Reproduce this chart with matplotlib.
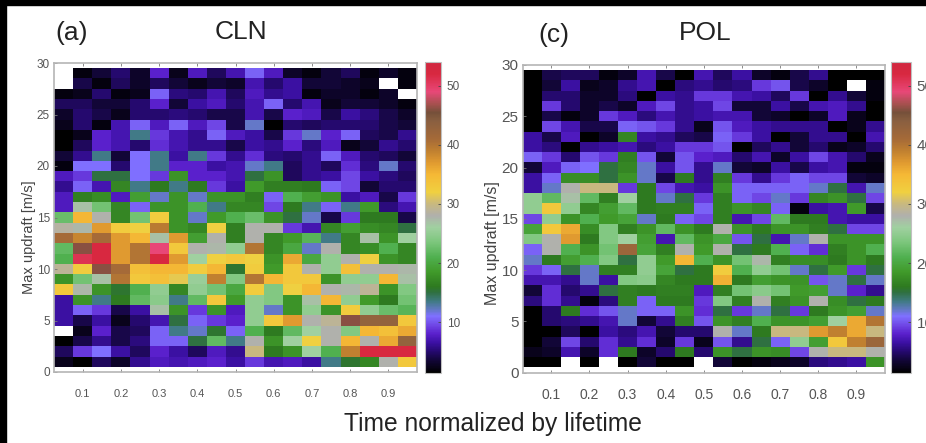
import numpy as np
import matplotlib
matplotlib.use('Agg')
import matplotlib.pyplot as plt
from matplotlib.colors import LinearSegmentedColormap
from matplotlib.patches import Rectangle

W, H = 926, 443
nan = np.nan

# max updraft bins, top row (29 m/s) first, values
cln = np.array([
    [nan, 2, 3.5, 5, 3, 8, 2.5, 7.5, 4.5, 7, 10.5, 7.5, 3, 2, 3.5, 4.5, 2, 3, 2],
    [nan, 4, 2, 4.5, 3, 4.5, 3.5, 2.5, 3.5, 3, 7, 5, 6.5, 3.5, 3.5, 3, 2.5, nan, 2],
    [2, 2.5, 5, 2, 2.5, 10.5, 5.5, 5, 7, 4.5, 7.5, 6, 6.5, 2, 3, 3, 2, 3, nan],
    [4.5, 4.5, 3.5, 3.5, 5, 8, 3.5, 6.5, 7.5, 5, 7, 10.5, 5, 7, 2.5, 3.5, 3.5, 3, 2],
    [3, 5, 4, 2.5, 5, 5, 5.5, 5, 4, 4, 7, 4, 8, 7.5, 4, 6.5, 5.5, 4, 3],
    [2.5, 5, 2, 7, 10.5, 7.5, 10.5, 7.5, 9.5, 4, 12, 1.5, 5, 4.5, 5, 5, 5, 4, 3.5],
    [1.5, 2.5, 8, 7, 13.5, 9, 7, 6, 10.5, 7.5, 6.5, 4, 9, 12, 8, 10.5, 4.5, 4, 6],
    [1.5, 4.5, 8, 7, 5, 8.5, 7, 6, 6, 4, 6.5, 6, 8, 5.5, 7.5, 2.5, 3.5, 6, 5],
    [3.5, 6, 13.5, 3.5, 11, 13.5, 6.5, 13.5, 9, 6, 8.5, 5.5, 5, 6, 10.5, 7.5, 5, 4.5, 3.5],
    [2, 11, 11, 5, 11, 13.5, 8, 8, 6.5, 7, 12, 13.5, 4.5, 6, 4.5, 8.5, 5.5, 12, 5],
    [7.5, 9, 15, 15, 11, 9, 18, 8, 8, 7, 15, 18, 4.5, 6, 6.5, 9.5, 6.5, 5.5, 4.5],
    [6, 10.5, 7, 17, 13.5, 16, 13.5, 16, 9, 6.5, 18.5, 16.5, 16.5, 16, 10.5, 9.5, 3.5, 5, 5],
    [7.5, 16.5, 17.5, 7.5, 19, 12, 18, 12, 18, 18, 16.5, 10.5, 21, 19, 18, 6.5, 7.5, 4, 9],
    [7.5, 27, 23, 17, 10.5, 18, 18, 21, 13.5, 17, 17, 9.5, 16, 13.5, 10.5, 13.5, 18.5, 5.5, 7],
    [22.5, 35, 28, 17, 23, 32.5, 18, 12, 18.5, 21, 22.5, 18, 15, 12, 4, 9, 16, 16, 4],
    [28.5, 27.5, 37, 32.5, 32, 39.5, 18, 17, 32, 16.5, 28, 28, 9, 7, 17, 19, 17.5, 17, 15],
    [41, 38.5, 41, 37, 35, 27, 37, 19, 28, 16.5, 28, 17, 18.5, 21.5, 13.5, 17, 27, 18, 26],
    [22, 46, 52, 37, 40, 49, 33, 28, 27.5, 25, 40, 17, 20, 12, 28, 17, 17.5, 21, 17],
    [21, 51, 52, 37, 40, 52, 37, 26, 32, 33, 32, 18, 36, 20, 25, 28, 32, 18, 17],
    [29, 32.5, 46, 41, 34, 35, 35, 32.5, 35, 15.5, 32.5, 18.5, 33, 28, 25, 34, 28, 28, 27.5],
    [18, 23, 27, 40, 33, 34, 31.5, 25.5, 39, 24, 40, 35, 33, 33, 18, 25, 25, 35, 27],
    [33, 27.5, 18, 15.5, 21, 25, 17, 25, 23, 20, 32.5, 24, 32, 35, 28, 27.5, 29, 18, 24],
    [6.5, 18, 13.5, 16, 22, 24.5, 13.5, 22, 33, 18.5, 25, 24, 18, 27, 35, 25, 18.5, 16, 23],
    [6.5, 10.5, 9, 4, 6.5, 27, 18, 9, 18, 7.5, 25, 12, 18, 25, 18, 32.5, 25, 22.5, 21.5],
    [6.5, 4, 6.5, 2.5, 5, 7, 15, 10.5, 9, 8, 25, 33, 37, 28, 29, 46, 43, 43, 33],
    [nan, 2.5, 8, 4, 4.5, 10.5, 13.5, 12, 15.5, 10.5, 21, 16, 22, 26, 28, 24, 35, 34, 36],
    [1.5, 4, 6, 4, 5.5, 10.5, 10.5, 15, 22, 13.5, 28, 18, 26, 32, 28, 35, 28, 36, 43],
    [4.5, 9, 11, 6.5, 4.5, 8, 6.5, 4.5, 7.5, 6, 30, 16, 18, 26, 21, 39, 52, 52, 52],
    [2.5, 1.5, 4.5, 3, 6, 7.5, 7, 7.5, 8, 6.5, 9, 7, 7.5, 6.5, 13.5, 15.5, 17, 28, 33],
])

pol = np.array([
    [1.5, 4, 4.5, 4.5, 2, 3, 7, 4, 1.5, 7, 4.5, 6.5, 3, 2, 4, 6, 1.5, 1.5, 1.5],
    [1.5, 3.5, 6.5, 2.5, 3, 6, 7, 1.5, 5.5, 6, 5, 5.5, 9, 10, 4, 3, 1.5, nan, 2],
    [1.5, 5, 5, 3, 3, 5.5, 1.5, 6.5, 6, 9, 9, 7, 6.5, 4.5, 9, 1.5, 6, 3.5, 2],
    [1.5, 9, 5, 3, 4, 3, 7.5, 9.5, 6, 6.5, 9.5, 3.5, 3.5, 6.5, 4, 7, 7.5, 6, 1.5],
    [1.5, 4, 2, 3, 9, 7.5, 5.5, 7, 6, 6.5, 7, 7, 3.5, 3, 1.5, 3, 7.5, 2.5, 1.5],
    [1.5, 9.5, 7, 4, 4, 10.5, 10, 9, 6, 2.5, 10, 7.5, 6.5, 6, 6, 6, 1.5, 2.5, 6],
    [6.5, 4, 7.5, 1.5, 3, 17, 6.5, 6, 4.5, 4, 10.5, 9, 6.5, 1.5, 3.5, 6, 6, 1.5, 7],
    [6.5, 5.5, 1.5, 6, 6.5, 7, 5.5, 6.5, 9, 9, 10, 1.5, 4.5, 6, 3.5, 5, 2.5, 3, 5],
    [10.5, 9, 5, 10, 9, 16.5, 10, 3.5, 10, 8, 7.5, 5, 7, 3, 6.5, 9.5, 7, 5, 2.5],
    [3.5, 7.5, 10.5, 11, 15, 17, 12, 6.5, 10, 6, 12, 3.5, 3, 6.5, 4, 6.5, 7, 2, 2],
    [6.5, 10.5, 17.5, 17.5, 15, 18, 12, 4, 16, 6, 16.5, 9, 6, 9, 10.5, 9.5, 9.5, 3.5, 3],
    [6.5, 12, 28, 30, 30, 9, 16, 9.5, 7, 6.5, 18, 10.5, 10.5, 10.5, 10.5, 12, 15, 7, 12],
    [25, 22, 27, 22, 16.5, 26, 16, 12, 15, 9, 16.5, 10.5, 9.5, 12, 9, 17, 18, 15, 9.5],
    [25, 33, 25, 17, 19, 22, 16, 16.5, 16.5, 10.5, 16.5, 18, 17, 10.5, 2, 6.5, 7, 18.5, 4],
    [9.5, 25, 18, 21, 18.5, 19.5, 12, 16, 10.5, 9.5, 16.5, 7, 9.5, 22, 16, 16, 7, 6.5, 6.5],
    [19.5, 33, 36, 17.5, 24, 16.5, 18, 22, 18, 16, 28, 18, 16, 18, 18, 16.5, 15, 9.5, 9.5],
    [24, 28, 37, 16, 24, 26, 19, 7, 22, 18, 20, 10, 15, 7, 12, 28, 18, 18, 18],
    [10.5, 28, 21, 18, 23, 42, 19.5, 16.5, 28, 18.5, 28, 15, 16, 21, 10.5, 8.5, 16.5, 18, 21],
    [12, 16, 19, 21, 24, 15, 25, 18.5, 35, 21, 18, 23, 27.5, 16.5, 17.5, 17.5, 16, 18, 16],
    [9, 10.5, 15, 12, 16.5, 16.5, 25, 19.5, 15, 16, 32.5, 21, 25, 23, 12, 15, 18.5, 9, 15],
    [7, 7, 6, 12, 6.5, 24, 24.5, 17, 16, 16, 35.5, 16, 19, 18, 18, 10, 12, 15, 12],
    [3.5, 8.5, 5, 6, 15, 16.5, 16, 16.5, 16.5, 7.5, 16.5, 23, 24.5, 23, 18.5, 19, 12, 8, 6],
    [5.5, 8.5, 6, 2, 5.5, 16.5, 10.5, 16, 16, 9, 24, 16.5, 28, 16.5, 18, 28, 17.5, 15, 16],
    [1.5, 5, 16, 8.5, 10, 12, 10.5, 10.5, 18, 8.5, 15, 9, 12, 15, 9, 16, 18, 19, 12],
    [1.5, 5, 5.5, 6, 7, 12, 3.5, 6, 16.5, 10, 18, 16.5, 21, 18, 18, 19, 26, 36, 40],
    [1.5, 1.5, 4.5, 1.5, 6.5, 5.5, 7, 3.5, 5, 5, 28, 12, 16, 30, 30, 37, 39, 36, 30],
    [1.5, 3.5, 9.5, 5, 8.5, 6, 8.5, 3, 9, 2.5, 10, 6, 15, 10.5, 25, 19, 33, 39, 42],
    [2.5, 3, 7, 3, 8.5, 16, 3, 5, 16, 5, 18, 15, 18, 17.5, 9.5, 28, 30, 30, 28],
    [1.5, 1.5, nan, 1.5, nan, 1.5, 3.5, 1.5, 1.5, nan, 3.5, 1.5, 2, 2.5, 3, 5.5, 6, 6.5, 18],
])

time_edges = np.arange(0.025, 1.0, 0.05)
updraft_edges = np.arange(29.5, 0, -1.0)

x_ticks = [0.1, 0.2, 0.3, 0.4, 0.5, 0.6, 0.7, 0.8, 0.9]
y_ticks = [0, 5, 10, 15, 20, 25, 30]
cb_ticks = [10, 20, 30, 40, 50]

VMIN, VMAX = 1.4, 54.0
stops = [(1.4, '#000000'), (3.5, '#120638'), (5, '#25096e'), (6.5, '#3c10a4'),
         (8, '#5a20cc'), (9.5, '#7048e6'), (11, '#7f70ff'), (12, '#6478c8'),
         (13.5, '#407a84'), (15, '#2f7040'), (16, '#2e7a20'), (18.5, '#409a2a'),
         (21, '#50b050'), (23.5, '#7cc67c'), (26, '#a0d0a0'), (28, '#b0b0ac'),
         (30, '#c8b880'), (32, '#f0d040'), (35, '#f5b835'), (37, '#e09a30'),
         (39, '#c08030'), (41, '#a56a38'), (44, '#8a5f40'), (45.5, '#75503a'),
         (47, '#a85050'), (49, '#e84878'), (52, '#d82840'), (54, '#d02840')]
cmap = LinearSegmentedColormap.from_list(
    'updraft', [((v - VMIN) / (VMAX - VMIN), c) for v, c in stops], N=512)

plt.rcParams['font.family'] = ['Liberation Sans', 'DejaVu Sans']


def px_axes(fig, x0, y0, x1, y1):
    return fig.add_axes([x0 / W, 1 - y1 / H, (x1 - x0) / W, (y1 - y0) / H])


def panel(fig, data, box, cbox, tick_size, x_size, x_pad, label_size, label_xy):
    ax = px_axes(fig, *box)
    mesh = ax.pcolormesh(time_edges, updraft_edges, data, cmap=cmap, vmin=VMIN, vmax=VMAX)
    ax.set_xlim(0.025, 0.975)
    ax.set_ylim(0, 30)
    ax.set_xticks(x_ticks)
    ax.set_yticks(y_ticks)
    ax.tick_params(axis='x', direction='in', length=2, width=0.6, color='#777777',
                   labelsize=x_size, labelcolor='#555555', pad=x_pad, top=True)
    ax.tick_params(axis='y', direction='in', length=2, width=0.6, color='#777777',
                   labelsize=tick_size, labelcolor='#555555', pad=3)
    for s in ax.spines.values():
        s.set_color('#b5b5b5')
        s.set_linewidth(1.2)
    ax.set_ylabel('Max updraft [m/s]', fontsize=label_size, color='#444444')
    bx0, by0, bx1, by1 = box
    ax.yaxis.set_label_coords((label_xy[0] - bx0) / (bx1 - bx0), (by1 - label_xy[1]) / (by1 - by0))
    cax = px_axes(fig, *cbox)
    cb = fig.colorbar(mesh, cax=cax)
    cb.set_ticks(cb_ticks)
    cb.ax.tick_params(direction='in', length=2, width=0.6, color='#444444',
                      labelsize=tick_size, labelcolor='#555555', pad=4)
    cb.outline.set_edgecolor('#c0c0c0')
    return ax


fig = plt.figure(figsize=(W / 100, H / 100), dpi=100, facecolor='white')

panel(fig, cln, (54, 63, 417, 372), (425, 62, 441, 373), 8.5, 8, 12, 10.5, (36, 237))
panel(fig, pol, (522.7, 65, 885, 372.5), (891, 62, 911, 373), 11, 10, 11, 11.5, (500, 243))

# black scan edge along the left and top of the picture
fig.add_artist(Rectangle((0, 0), 6 / W, 1, transform=fig.transFigure, color='black'))
fig.add_artist(Rectangle((0, 1 - 5 / H), 1, 5 / H, transform=fig.transFigure, color='black'))

fig.text(72 / W, 1 - 33 / H, '(a)', fontsize=19, color='#222222', ha='center', va='center')
fig.text(241 / W, 1 - 32 / H, 'CLN', fontsize=19, color='#222222', ha='center', va='center')
fig.text(554 / W, 1 - 35 / H, '(c)', fontsize=19, color='#222222', ha='center', va='center')
fig.text(705 / W, 1 - 33 / H, 'POL', fontsize=19, color='#222222', ha='center', va='center')
fig.text(493 / W, 1 - 424 / H, 'Time normalized by lifetime', fontsize=17.7, color='#222222',
         ha='center', va='center')

fig.savefig('out.png', dpi=100)
